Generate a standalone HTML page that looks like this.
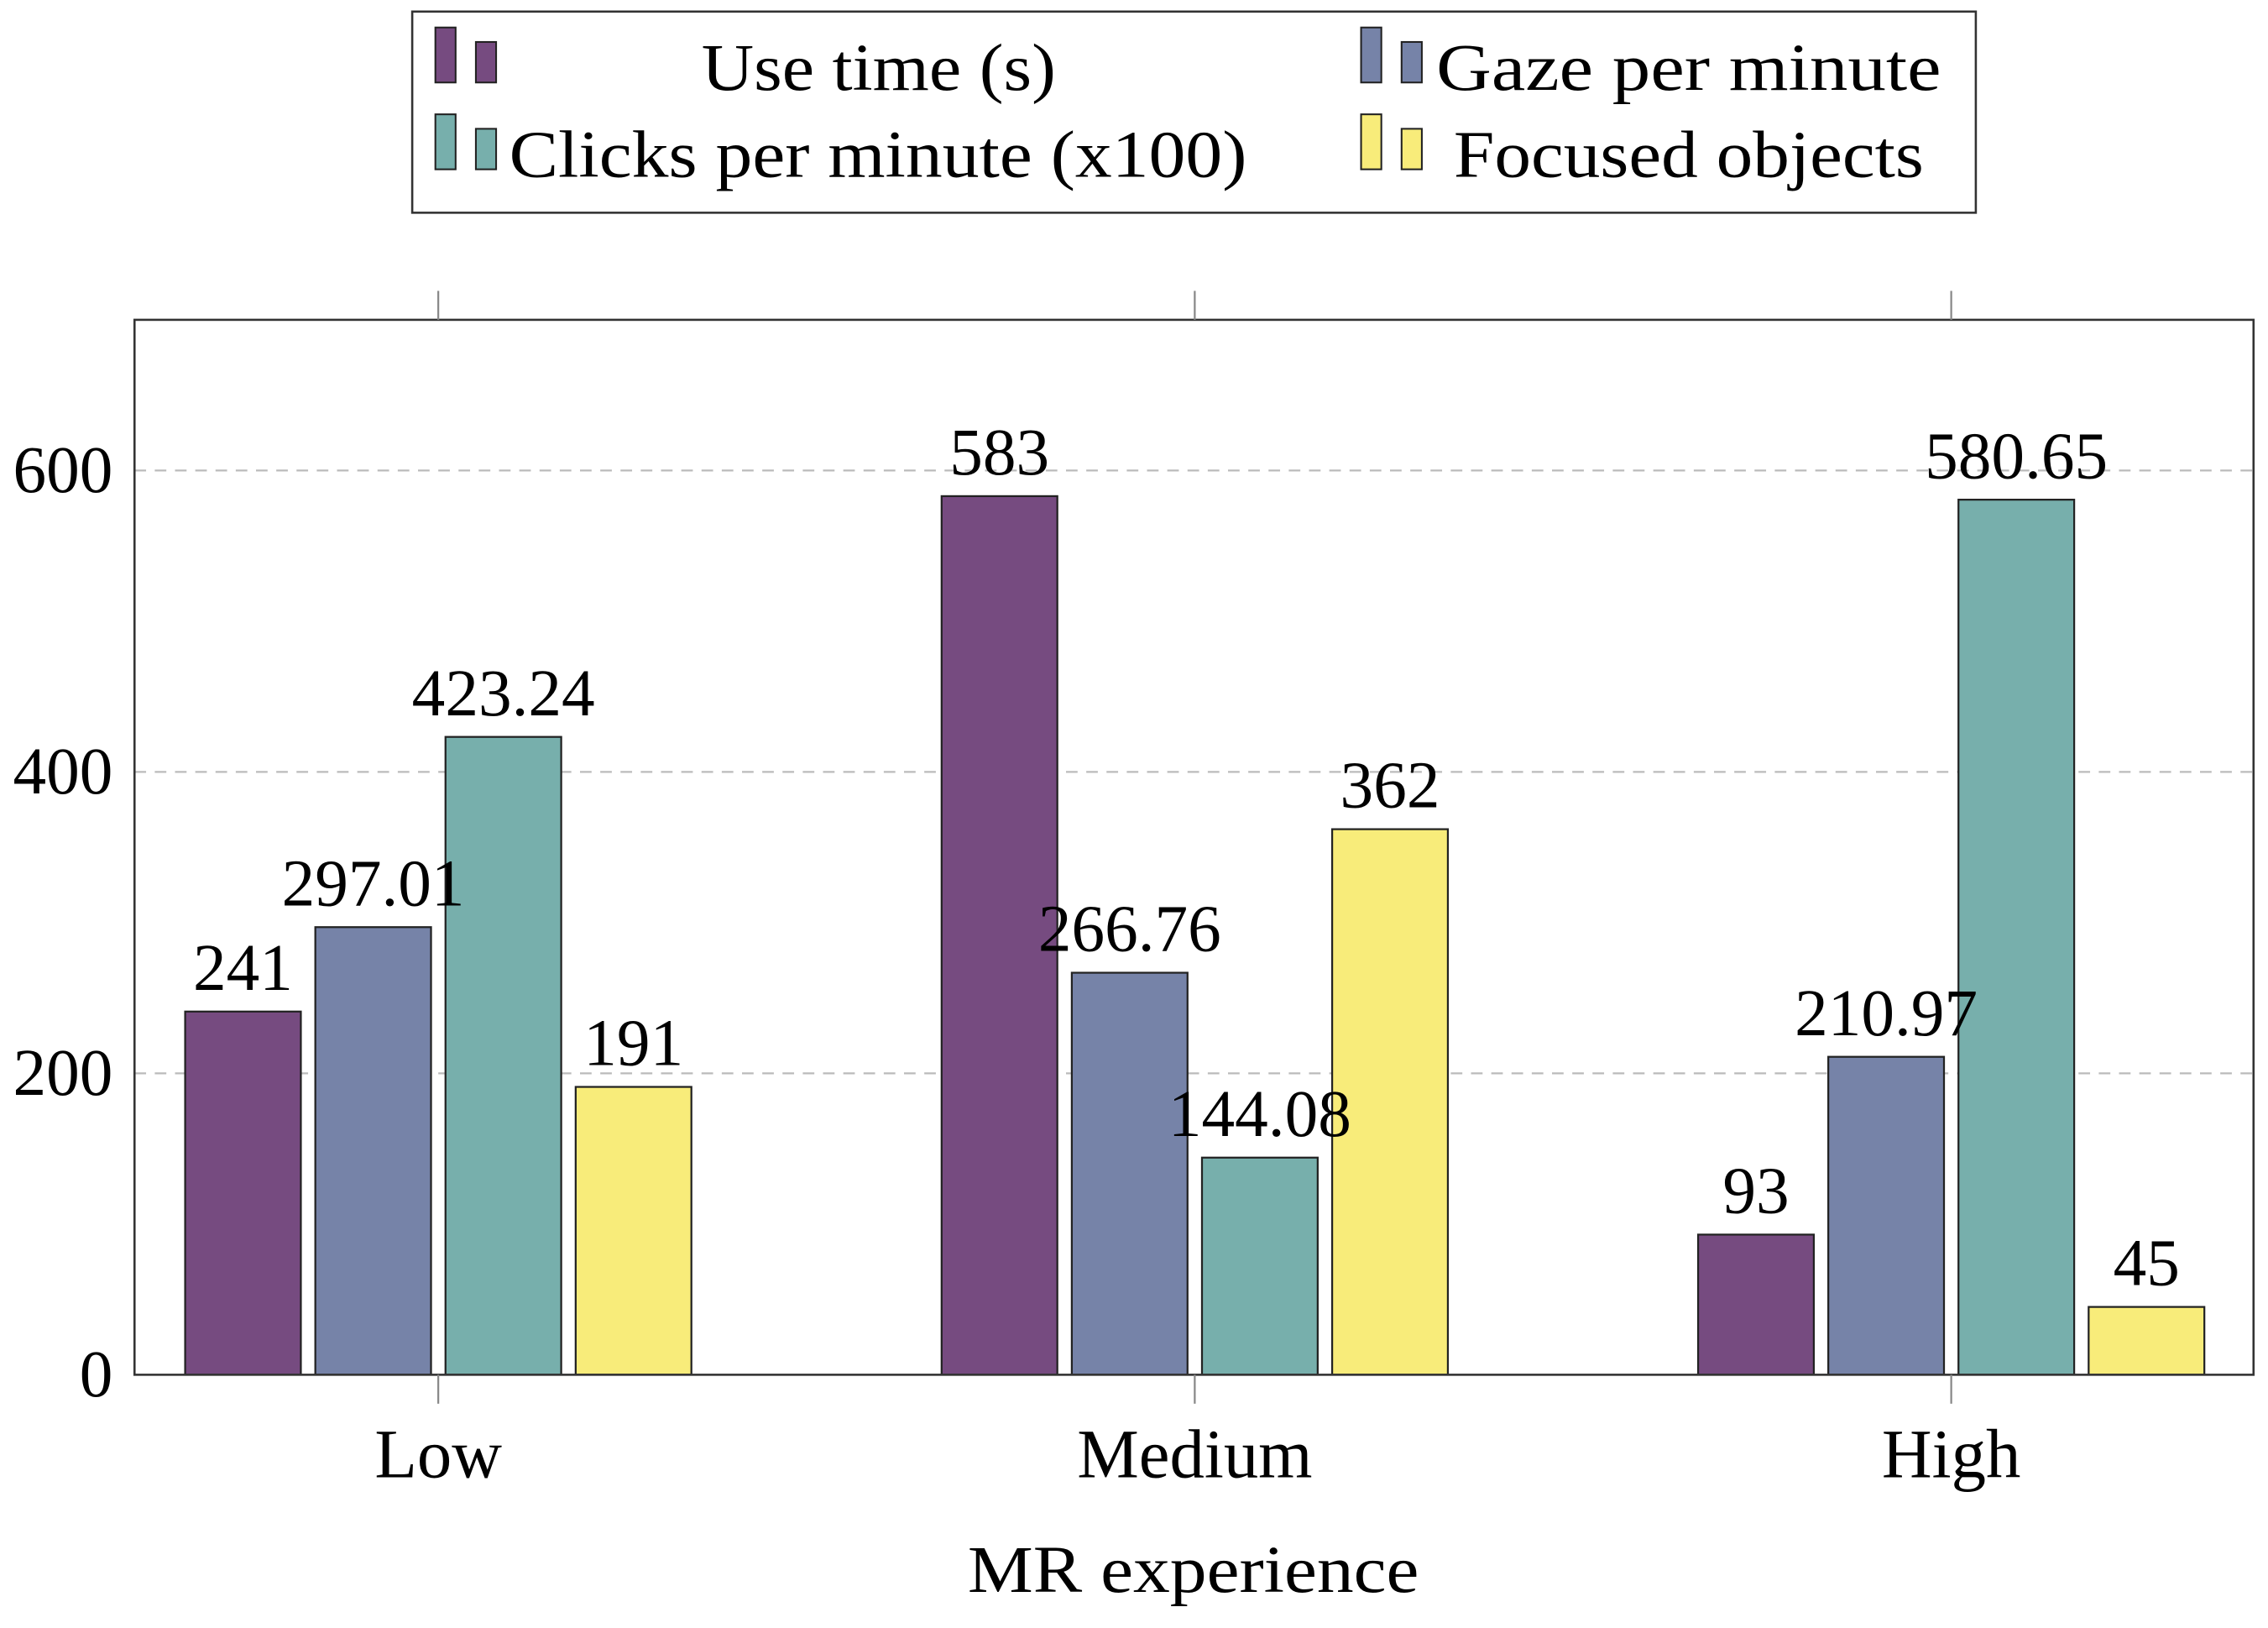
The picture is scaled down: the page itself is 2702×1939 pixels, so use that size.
<!DOCTYPE html>
<html><head><meta charset="utf-8"><style>
html,body{margin:0;padding:0;background:#fff;}
svg{display:block;}
text{font-family:"Liberation Serif",serif;fill:#000;}
</style></head><body>
<svg id="chart" width="2702" height="1939" viewBox="0 0 1568 1125" preserveAspectRatio="none" xmlns="http://www.w3.org/2000/svg">
<g id="grid"></g>
<g id="bars"></g>
<g id="labels"></g>
<rect x="93" y="221" width="1465" height="729" fill="none" stroke="#333" stroke-width="1.5"/>
<g id="axes"></g>
<text x="669" y="1100" font-size="46" textLength="312" lengthAdjust="spacingAndGlyphs">MR experience</text>
<g>
<rect x="285" y="8" width="1081" height="139" fill="#fff" stroke="#333" stroke-width="1.5"/>
<g>
<rect x="301" y="19" width="14" height="38" fill="#764b80" stroke="#222" stroke-width="1.2"/>
<rect x="329" y="29" width="14" height="28" fill="#764b80" stroke="#222" stroke-width="1.2"/>
<text x="485" y="62" font-size="46" textLength="245" lengthAdjust="spacingAndGlyphs">Use time (s)</text></g>
<g>
<rect x="941" y="19" width="14" height="38" fill="#7683a8" stroke="#222" stroke-width="1.2"/>
<rect x="969" y="29" width="14" height="28" fill="#7683a8" stroke="#222" stroke-width="1.2"/>
<text x="993" y="62" font-size="46" textLength="349" lengthAdjust="spacingAndGlyphs">Gaze per minute</text></g>
<g>
<rect x="301" y="79" width="14" height="38" fill="#77afac" stroke="#222" stroke-width="1.2"/>
<rect x="329" y="89" width="14" height="28" fill="#77afac" stroke="#222" stroke-width="1.2"/>
<text x="352" y="122" font-size="46" textLength="510" lengthAdjust="spacingAndGlyphs">Clicks per minute (x100)</text></g>
<g>
<rect x="941" y="79" width="14" height="38" fill="#f8ec7a" stroke="#222" stroke-width="1.2"/>
<rect x="969" y="89" width="14" height="28" fill="#f8ec7a" stroke="#222" stroke-width="1.2"/>
<text x="1005" y="122" font-size="46" textLength="325" lengthAdjust="spacingAndGlyphs">Focused objects</text></g>
</g>
</svg>
<script>
const categories = ["Low", "Medium", "High"];
const useTime = [241, 583, 93];
const gaze = [297.01, 266.76, 210.97];
const clicks = [423.24, 144.08, 580.65];
const focused = [191, 362, 45];
const labelUse = ["241", "583", "93"];
const labelGaze = ["297.01", "266.76", "210.97"];
const labelClicks = ["423.24", "144.08", "580.65"];
const labelFocused = ["191", "362", "45"];
const yTicks = [0, 200, 400, 600];

const NS = "http://www.w3.org/2000/svg";
const y0 = 950, yTop = 221, yMax = 700;
const yScale = v => y0 - v / yMax * (y0 - yTop);
const xScale = i => 303 + i * 523;
function mk(tag, attrs, parent){ const e=document.createElementNS(NS,tag); for(const k in attrs) e.setAttribute(k,attrs[k]); parent.appendChild(e); return e; }
const grid=document.getElementById('grid'), bars=document.getElementById('bars'), labels=document.getElementById('labels'), axes=document.getElementById('axes');
yTicks.forEach(t=>{
  if(t>0){ const l=mk('line',{x1:93,x2:1558,y1:yScale(t),y2:yScale(t),stroke:'#bbb','stroke-width':1.3,'stroke-dasharray':'8,6'},grid);
    
     }
  const tx=mk('text',{x:78,y:yScale(t)+15,'font-size':46,'text-anchor':'end'},axes); tx.textContent=t;
  
  
});
categories.forEach((c,i)=>{
  const x=xScale(i);
  const t1=mk('line',{x1:x,x2:x,y1:201,y2:221,stroke:'#888','stroke-width':1.3},axes);
  
  
  const t2=mk('line',{x1:x,x2:x,y1:950,y2:970,stroke:'#888','stroke-width':1.3},axes);
  
  
  const tl=mk('text',{x:x,y:1021,'font-size':48,'text-anchor':'middle'},axes); tl.textContent=c;
  
  
});
const series=[
  {name:'use-time',vals:useTime,labels:labelUse,color:'#764b80',off:-135},
  {name:'gaze',vals:gaze,labels:labelGaze,color:'#7683a8',off:-45},
  {name:'clicks',vals:clicks,labels:labelClicks,color:'#77afac',off:45},
  {name:'focused',vals:focused,labels:labelFocused,color:'#f8ec7a',off:135}
];
series.forEach(s=>{
  s.vals.forEach((v,i)=>{
    const cx=xScale(i)+s.off, y=yScale(v);
    const r=mk('rect',{x:cx-40,y:y,width:80,height:y0-y,fill:s.color,stroke:'#222','stroke-width':1.3},bars);
    
    
    const t=mk('text',{x:cx,y:y-15,'font-size':46,'text-anchor':'middle'},labels); t.textContent=s.labels[i];
    
    
  });
});
</script>
</body></html>
